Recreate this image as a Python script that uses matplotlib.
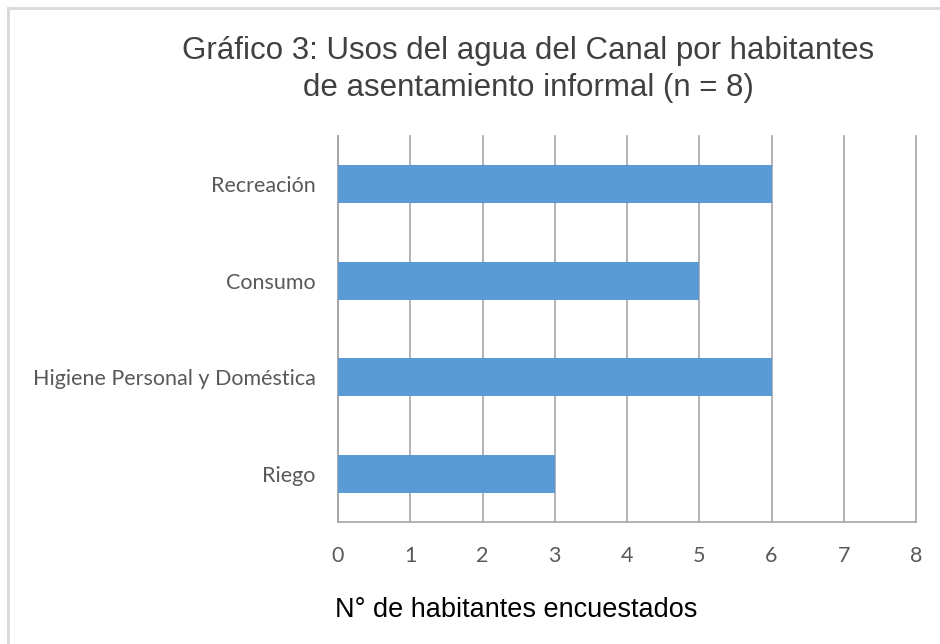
import matplotlib
matplotlib.use("Agg")
import matplotlib.pyplot as plt
from matplotlib.lines import Line2D

categories = ["Riego", "Higiene Personal y Doméstica", "Consumo", "Recreación"]
values = [3, 6, 5, 6]
xticks = [0, 1, 2, 3, 4, 5, 6, 7, 8]

fig = plt.figure(figsize=(9.4, 6.44), dpi=100)
ax = fig.add_axes([338/940, 1-522/644, (916-338)/940, (522-136)/644])

ax.barh(range(len(categories)), values, height=0.39, color="#5B9BD5", zorder=3)
ax.set_ylim(-0.5, len(categories) - 0.5)
ax.set_xlim(0, 8)
ax.set_xticks(xticks)
ax.set_yticks(range(len(categories)))
ax.set_yticklabels(categories)
ax.grid(axis="x", color="#A6A6A6", linewidth=1.2, zorder=0)
for gl in ax.get_xgridlines():
    gl.set_clip_on(False)
ax.set_axisbelow(True)
for s in ["top", "right"]:
    ax.spines[s].set_visible(False)
for s in ["left", "bottom"]:
    ax.spines[s].set_color("#A6A6A6")
    ax.spines[s].set_linewidth(1.2)
ax.tick_params(axis="both", length=0, labelcolor="#595959", labelsize=15.5)
ax.tick_params(axis="x", pad=17)
ax.tick_params(axis="y", pad=16)
for lab in ax.get_xticklabels() + ax.get_yticklabels():
    lab.set_family(["Lato", "DejaVu Sans"])

fig.text(528/940, 1-36/644, "Gráfico 3: Usos del agua del Canal por habitantes\nde asentamiento informal (n = 8)",
         ha="center", va="top", fontsize=22.5, color="#404040",
         family=["Liberation Sans", "DejaVu Sans"], linespacing=1.3)
fig.text(335/940, 1-617/644, "N° de habitantes encuestados", ha="left", va="baseline",
         fontsize=19.5, color="#000000", family=["Liberation Sans", "DejaVu Sans"])

fig.add_artist(Line2D([8/940, 8/940], [0, 1-8/644], transform=fig.transFigure,
                      color="#D9D9D9", linewidth=2))
fig.add_artist(Line2D([8/940, 1], [1-8/644, 1-8/644], transform=fig.transFigure,
                      color="#D9D9D9", linewidth=2))

fig.savefig("out.png", dpi=100)
